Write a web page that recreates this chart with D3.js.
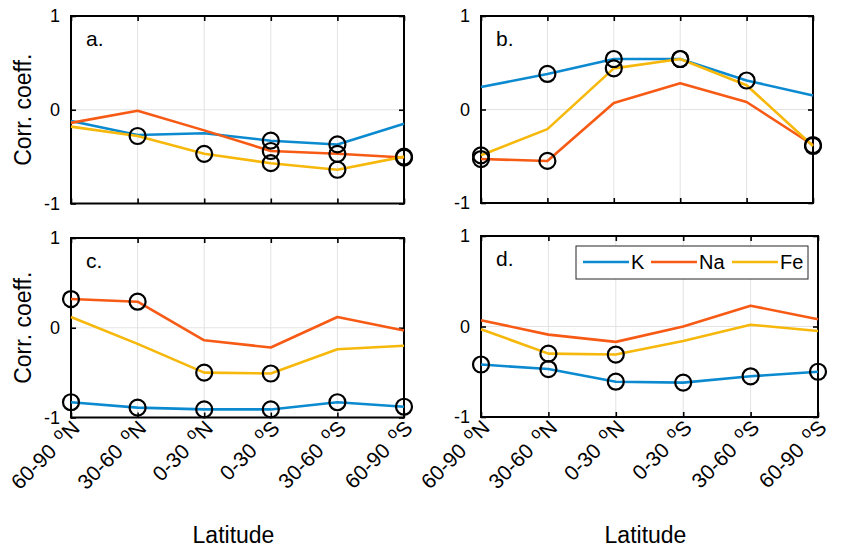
<!DOCTYPE html>
<html><head><meta charset="utf-8">
<script src="https://cdn.jsdelivr.net/npm/d3@7"></script>
<style>
body{margin:0;background:#fff;}
svg{display:block;font-family:"Liberation Sans",Arial,sans-serif;}
</style></head>
<body>
<svg id="chart" width="842" height="550"></svg>
<script>
// ---------- data ----------
const latRanges = ["60-90", "30-60", "0-30", "0-30", "30-60", "60-90"];
const hemis = ["N", "N", "N", "S", "S", "S"];
const seriesNames = ["K", "Na", "Fe"];
const yTicks = [-1, 0, 1];

// panel a
const kA  = [-0.12, -0.27, -0.25, -0.33, -0.37, -0.15];
const naA = [-0.14, -0.01, -0.22, -0.44, -0.47, -0.51];
const feA = [-0.18, -0.28, -0.47, -0.57, -0.64, -0.50];
const sigKA  = [0, 0, 0, 1, 1, 0];
const sigNaA = [0, 0, 0, 1, 1, 1];
const sigFeA = [0, 1, 1, 1, 1, 1];
// panel b
const kB  = [0.24, 0.38, 0.54, 0.54, 0.31, 0.15];
const naB = [-0.53, -0.55, 0.07, 0.28, 0.08, -0.38];
const feB = [-0.49, -0.21, 0.44, 0.54, 0.26, -0.39];
const sigKB  = [0, 1, 1, 1, 1, 0];
const sigNaB = [1, 1, 0, 0, 0, 1];
const sigFeB = [1, 0, 1, 1, 0, 1];
// panel c
const kC  = [-0.83, -0.89, -0.91, -0.91, -0.83, -0.88];
const naC = [0.32, 0.29, -0.14, -0.22, 0.12, -0.03];
const feC = [0.12, -0.18, -0.50, -0.51, -0.24, -0.20];
const sigKC  = [1, 1, 1, 1, 1, 1];
const sigNaC = [1, 1, 0, 0, 0, 0];
const sigFeC = [0, 0, 1, 1, 0, 0];
// panel d
const kD  = [-0.42, -0.47, -0.61, -0.62, -0.55, -0.50];
const naD = [0.07, -0.09, -0.17, 0.00, 0.23, 0.08];
const feD = [-0.03, -0.30, -0.31, -0.16, 0.02, -0.05];
const sigKD  = [1, 1, 1, 1, 1, 1];
const sigNaD = [0, 0, 0, 0, 0, 0];
const sigFeD = [0, 1, 1, 0, 0, 0];

const colors = {K: "#0c8ad0", Na: "#f75a14", Fe: "#f7b80c"};

const panels = [
  {label: "a.", x0: 71,  x1: 404, y0: 16,  y1: 203.5, ylab: true,  xlab: false, legend: false,
   series: [["K", kA, sigKA], ["Na", naA, sigNaA], ["Fe", feA, sigFeA]]},
  {label: "b.", x0: 481, x1: 813, y0: 16,  y1: 203,   ylab: false, xlab: false, legend: false,
   series: [["K", kB, sigKB], ["Na", naB, sigNaB], ["Fe", feB, sigFeB]]},
  {label: "c.", x0: 71,  x1: 404, y0: 238, y1: 417.5, ylab: true,  xlab: true,  legend: false,
   series: [["K", kC, sigKC], ["Na", naC, sigNaC], ["Fe", feC, sigFeC]]},
  {label: "d.", x0: 481, x1: 818, y0: 236, y1: 417,   ylab: false, xlab: true,  legend: true,
   series: [["K", kD, sigKD], ["Na", naD, sigNaD], ["Fe", feD, sigFeD]]}
];

const svg = d3.select("#chart");
const idx = d3.range(1, latRanges.length + 1);

panels.forEach(p => {
  const x = d3.scaleLinear().domain([1, 6]).range([p.x0, p.x1]);
  const y = d3.scaleLinear().domain([-1, 1]).range([p.y1, p.y0]);
  const g = svg.append("g");

  // grid
  g.selectAll(".vg").data(idx.slice(1, -1)).join("line")
    .attr("x1", d => x(d)).attr("x2", d => x(d))
    .attr("y1", p.y0).attr("y2", p.y1)
    .attr("stroke", "#e3e3e3").attr("stroke-width", 1);
  g.selectAll(".hg").data([0]).join("line")
    .attr("x1", p.x0).attr("x2", p.x1)
    .attr("y1", d => y(d)).attr("y2", d => y(d))
    .attr("stroke", "#e3e3e3").attr("stroke-width", 1);

  // axes with inward ticks (mirrored)
  const axB = d3.axisBottom(x).tickValues(idx).tickSize(-5).tickFormat("");
  const axT = d3.axisTop(x).tickValues(idx).tickSize(-5).tickFormat("");
  const axL = d3.axisLeft(y).tickValues(yTicks).tickSize(-5).tickFormat("");
  const axR = d3.axisRight(y).tickValues(yTicks).tickSize(-5).tickFormat("");
  [[axB, `translate(0,${p.y1})`], [axT, `translate(0,${p.y0})`],
   [axL, `translate(${p.x0},0)`], [axR, `translate(${p.x1},0)`]].forEach(([ax, tr]) => {
    const a = g.append("g").attr("transform", tr).call(ax);
    a.select(".domain").remove();
    a.selectAll("line").attr("stroke", "#000").attr("stroke-width", 1.6);
  });

  // y tick labels
  g.selectAll(".yl").data(yTicks).join("text")
    .attr("x", p.x0 - 11).attr("y", d => y(d)).attr("dy", "0.35em")
    .attr("text-anchor", "end").attr("font-size", 18).attr("fill", "#000")
    .text(d => d);

  // box
  g.append("rect").attr("x", p.x0).attr("y", p.y0)
    .attr("width", p.x1 - p.x0).attr("height", p.y1 - p.y0)
    .attr("fill", "none").attr("stroke", "#000").attr("stroke-width", 2);

  // lines
  const line = d3.line().x((d, i) => x(i + 1)).y(d => y(d));
  p.series.forEach(([name, vals]) => {
    g.append("path").datum(vals).attr("d", line)
      .attr("fill", "none").attr("stroke", colors[name]).attr("stroke-width", 2.6)
      .attr("stroke-linejoin", "round");
  });
  // significance circles
  p.series.forEach(([name, vals, sig]) => {
    g.selectAll(null).data(vals.map((v, i) => ({v, i})).filter(d => sig[d.i]))
      .join("circle")
      .attr("cx", d => x(d.i + 1)).attr("cy", d => y(d.v)).attr("r", 8)
      .attr("fill", "none").attr("stroke", "#000").attr("stroke-width", 2.2);
  });

  // panel label
  g.append("text").attr("x", p.x0 + 15).attr("y", p.y0 + 30)
    .attr("font-size", 21).attr("fill", "#000").text(p.label);

  // y label
  if (p.ylab) {
    g.append("text")
      .attr("transform", `translate(31,${(p.y0 + p.y1) / 2}) rotate(-90)`)
      .attr("text-anchor", "middle").attr("font-size", 23).attr("fill", "#000")
      .text("Corr. coeff.");
  }

  // x tick labels
  if (p.xlab) {
    idx.forEach((d, i) => {
      const t = g.append("text")
        .attr("transform", `translate(${x(d) + 10},${p.y1 + 12}) rotate(-45)`)
        .attr("text-anchor", "end").attr("font-size", 21).attr("fill", "#000");
      t.append("tspan").text(latRanges[i] + "\u00a0");
      t.append("tspan").attr("font-size", 16).attr("dx", 3).attr("dy", -8).text("o");
      t.append("tspan").attr("dy", 8).text(hemis[i]);
    });
    g.append("text").attr("x", (p.x0 + p.x1) / 2 - 4).attr("y", 543)
      .attr("text-anchor", "middle").attr("font-size", 23).attr("fill", "#000")
      .text("Latitude");
  }

  // legend
  if (p.legend) {
    const lg = g.append("g");
    lg.append("rect").attr("x", 576).attr("y", 246).attr("width", 232).attr("height", 33)
      .attr("fill", "#fff").attr("stroke", "#262626").attr("stroke-width", 1);
    const lx = [583, 651, 732];
    seriesNames.forEach((n, i) => {
      lg.append("line").attr("x1", lx[i]).attr("x2", lx[i] + 46)
        .attr("y1", 262).attr("y2", 262)
        .attr("stroke", colors[n]).attr("stroke-width", 2.6);
      lg.append("text").attr("x", lx[i] + 48).attr("y", 262).attr("dy", "0.36em")
        .attr("font-size", 20).attr("fill", "#000").text(n);
    });
  }
});
</script>
</body></html>
